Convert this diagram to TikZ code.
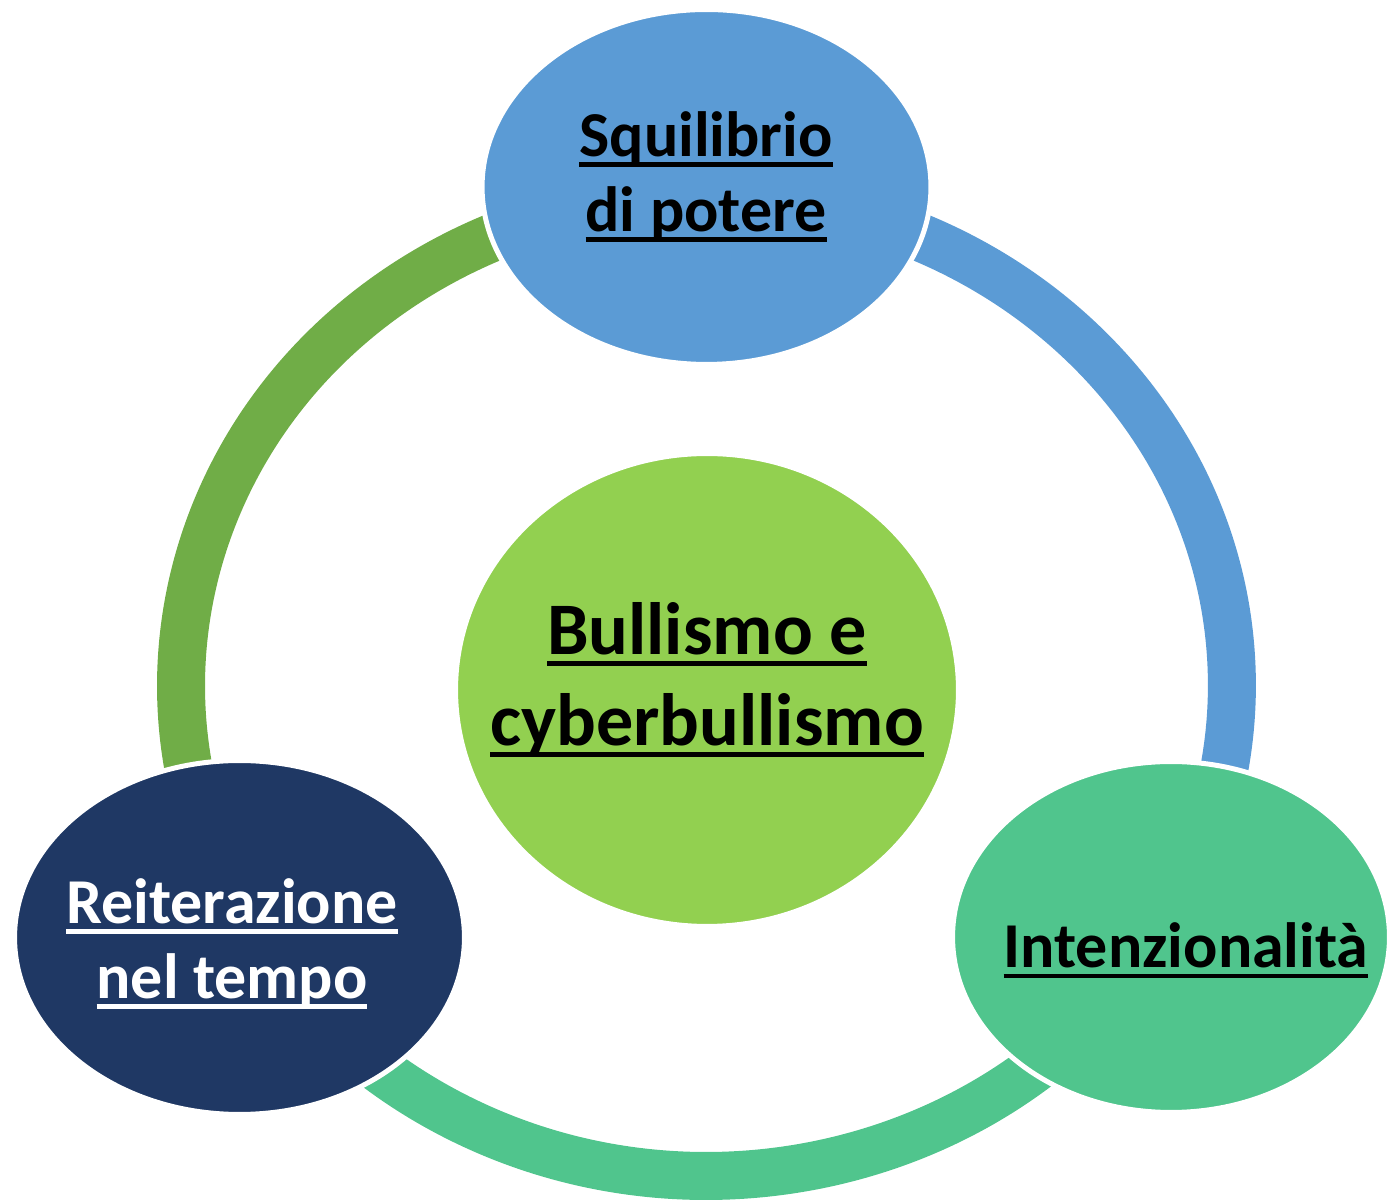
\documentclass[tikz,border=0pt]{standalone}
\usepackage{fontspec}
\setmainfont{Carlito}
\usepackage{xcolor}
\usepackage{tikz}
\usetikzlibrary{shapes.geometric}

\definecolor{skyblue}{HTML}{5B9BD5}
\definecolor{leafgreen}{HTML}{70AD47}
\definecolor{limegreen}{HTML}{92D050}
\definecolor{mintgreen}{HTML}{50C58D}
\definecolor{navyblue}{HTML}{1F3864}

\newcommand{\ulword}[1]{\setbox0\hbox{#1}\rlap{\rule[-0.16em]{\wd0}{0.065em}}\box0}

\begin{document}
\begin{tikzpicture}[
    x=0.02cm, y=0.02cm,
    ring/.style={line width=0.96cm, line cap=butt},
    bubble/.style={ellipse, draw=white, line width=0.1cm, inner sep=0pt},
    hub/.style={ellipse, draw=white, line width=0.08cm, fill=limegreen,
        minimum width=10.04cm, minimum height=9.44cm, inner sep=0pt},
    lbl/.style={inner sep=0pt, align=center,
        font=\fontsize{36.4pt}{42.7pt}\selectfont\bfseries},
    hublbl/.style={inner sep=0pt, align=center,
        font=\fontsize{42.2pt}{51.8pt}\selectfont\bfseries}
]
\useasboundingbox (0,0) rectangle (1388,1199);
\coordinate (ringc) at (706.5,513.5);
% the ring, one colour per side
\draw[ring, skyblue] (ringc) ++(90:10.51cm and 9.81cm)
    arc[start angle=90, end angle=-30, x radius=10.51cm, y radius=9.81cm];
\draw[ring, mintgreen] (ringc) ++(-30:10.51cm and 9.81cm)
    arc[start angle=-30, end angle=-150, x radius=10.51cm, y radius=9.81cm];
\draw[ring, leafgreen] (ringc) ++(210:10.51cm and 9.81cm)
    arc[start angle=210, end angle=90, x radius=10.51cm, y radius=9.81cm];
% outer bubbles
\node[bubble, fill=skyblue, minimum width=8.98cm, minimum height=7.1cm] (power) at (706.5,1012) {};
\node[bubble, fill=navyblue, minimum width=9.0cm, minimum height=7.08cm] (repeat) at (239.5,261.5) {};
\node[bubble, fill=mintgreen, minimum width=8.74cm, minimum height=7.02cm] (intent) at (1171,262) {};
\node[hub] (bully) at (707,509) {};
% texts
\node[lbl] (powertext) at (706,1022.5) {\ulword{Squilibrio}\\\ulword{di potere}};
\node[lbl, text=white] (repeattext) at (232,255.5) {\ulword{Reiterazione}\\\ulword{nel tempo}};
\node[lbl] (intenttext) at (1186,248.5) {\ulword{Intenzionalità}};
\node[hublbl] (bullytext) at (707,519.5) {\ulword{Bullismo e}\\\ulword{cyberbullismo}};
\end{tikzpicture}
\end{document}
